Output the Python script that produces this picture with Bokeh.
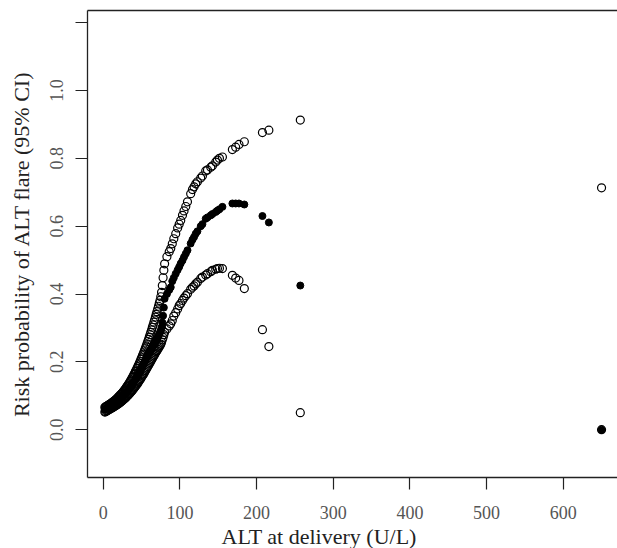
from bokeh.plotting import figure
from bokeh.models import Range1d, FixedTicker, LinearAxis, Title, NumeralTickFormatter, ColumnDataSource
from bokeh.embed import file_html
from bokeh.resources import INLINE

# ALT at delivery (U/L)
alt = [2, 3, 4, 5, 6, 7, 8, 9, 10, 11, 12, 13, 14, 15, 16, 17, 18, 19, 20,
       21, 22, 23, 24, 25, 26, 27, 28, 29, 30, 31, 32, 33, 34, 35, 36, 37, 38,
       39, 40, 41, 42, 43, 44, 45, 46, 47, 48, 49, 50, 51, 52, 53, 54, 55, 56,
       57, 58, 59, 60, 61, 62, 63, 64, 65, 66, 67, 68, 69, 70, 71, 72, 73, 74,
       75, 76, 77, 78, 79, 80,
       83, 86, 88, 90, 92, 94.5, 97, 99, 101, 103.3, 105.3, 107.6, 109.8, 114, 116.3,
       118.4, 120.6, 122.8, 127.1, 129.3, 133.6, 135.9, 140.2, 142.4, 146.7, 148.9,
       151.5, 155.4, 168.4, 172.7, 177, 184, 207.6, 216, 257, 650]

# upper 95% CI
upper = [0.066, 0.067, 0.069, 0.070, 0.071, 0.073, 0.074, 0.076, 0.077, 0.079,
         0.081, 0.082, 0.084, 0.086, 0.088, 0.090, 0.092, 0.095, 0.097,
         0.099, 0.102, 0.104, 0.107, 0.109, 0.112, 0.115, 0.118, 0.121, 0.124,
         0.128, 0.131, 0.135, 0.138, 0.142, 0.146, 0.150, 0.154,
         0.158, 0.163, 0.167, 0.172, 0.176, 0.181, 0.186, 0.191, 0.196, 0.201,
         0.207, 0.212, 0.218, 0.223, 0.229, 0.235, 0.241, 0.247,
         0.253, 0.260, 0.266, 0.273, 0.280, 0.287, 0.294, 0.302, 0.309, 0.317,
         0.324, 0.332, 0.340, 0.348, 0.356, 0.364, 0.373, 0.381,
         0.392, 0.405, 0.425, 0.448, 0.470, 0.489,
         0.510, 0.525, 0.534, 0.548, 0.563, 0.578, 0.595, 0.606, 0.617, 0.632, 0.645,
         0.658, 0.672, 0.696, 0.708, 0.716, 0.725, 0.731, 0.742, 0.748, 0.763, 0.766,
         0.774, 0.778, 0.789, 0.795, 0.800, 0.804, 0.826, 0.833, 0.841, 0.849, 0.876,
         0.883, 0.913, 0.713]

# estimated risk
est = [0.060, 0.061, 0.062, 0.063, 0.064, 0.066, 0.067, 0.068, 0.070, 0.071,
       0.073, 0.074, 0.076, 0.078, 0.079, 0.081, 0.083, 0.085, 0.087,
       0.089, 0.091, 0.093, 0.095, 0.098, 0.100, 0.102, 0.105, 0.107, 0.110,
       0.112, 0.115, 0.118, 0.121, 0.124, 0.127, 0.131, 0.134,
       0.138, 0.141, 0.145, 0.149, 0.153, 0.157, 0.161, 0.165, 0.169, 0.173,
       0.178, 0.182, 0.187, 0.191, 0.196, 0.201, 0.206, 0.211,
       0.216, 0.221, 0.226, 0.228, 0.232, 0.236, 0.240, 0.244, 0.248, 0.252,
       0.256, 0.260, 0.264, 0.268, 0.272, 0.277, 0.282, 0.287,
       0.293, 0.302, 0.316, 0.336, 0.360, 0.386,
       0.400, 0.412, 0.420, 0.438, 0.448, 0.460, 0.471, 0.480, 0.490, 0.499, 0.509,
       0.519, 0.529, 0.549, 0.560, 0.568, 0.578, 0.585, 0.600, 0.606, 0.622, 0.626,
       0.632, 0.636, 0.642, 0.646, 0.650, 0.657, 0.667, 0.667, 0.667, 0.664, 0.630,
       0.611, 0.425, 0.0]

# lower 95% CI
lower = [0.052, 0.053, 0.055, 0.056, 0.057, 0.059, 0.060, 0.061, 0.063, 0.064,
         0.065, 0.067, 0.068, 0.069, 0.071, 0.072, 0.074, 0.075, 0.077,
         0.079, 0.080, 0.082, 0.084, 0.086, 0.088, 0.090, 0.092, 0.094, 0.096,
         0.099, 0.101, 0.103, 0.106, 0.108, 0.111, 0.113, 0.116,
         0.119, 0.122, 0.125, 0.128, 0.131, 0.134, 0.137, 0.141, 0.144, 0.148,
         0.151, 0.155, 0.159, 0.162, 0.166, 0.170, 0.174, 0.178,
         0.182, 0.186, 0.190, 0.194, 0.198, 0.202, 0.206, 0.210, 0.214, 0.218,
         0.222, 0.226, 0.230, 0.233, 0.237, 0.241, 0.244, 0.248,
         0.252, 0.258, 0.265, 0.272, 0.280, 0.287,
         0.297, 0.306, 0.312, 0.322, 0.335, 0.345, 0.356, 0.366, 0.372, 0.381, 0.388,
         0.395, 0.401, 0.414, 0.420, 0.424, 0.430, 0.435, 0.446, 0.450, 0.456, 0.460,
         0.466, 0.470, 0.473, 0.475, 0.476, 0.475, 0.455, 0.447, 0.440, 0.416, 0.295,
         0.245, 0.050, 0.0]

x_ticks = [0, 100, 200, 300, 400, 500, 600]
y_ticks = [0.0, 0.2, 0.4, 0.6, 0.8, 1.0, 1.2]

src = ColumnDataSource(dict(x=alt, upper=upper, est=est, lower=lower))

SERIF = "Liberation Serif"

p = figure(width=617, height=548, output_backend="svg", toolbar_location=None,
           x_range=Range1d(-20.6, 670.8), y_range=Range1d(-0.141, 1.236),
           min_border_left=87, min_border_right=0, min_border_top=10, min_border_bottom=71,
           x_axis_type=None, y_axis_type=None)
p.grid.visible = False
p.outline_line_color = None
p.background_fill_color = "white"
p.border_fill_color = "white"

xaxis = LinearAxis(ticker=FixedTicker(ticks=x_ticks))
yaxis = LinearAxis(ticker=FixedTicker(ticks=y_ticks),
                   formatter=NumeralTickFormatter(format="0.0"))
yaxis.major_label_overrides = {1.2: ""}
for ax in (xaxis, yaxis):
    ax.axis_line_color = "#222222"
    ax.axis_line_width = 1.3
    ax.major_tick_line_color = "#222222"
    ax.major_tick_line_width = 1.2
    ax.major_tick_in = 0
    ax.major_tick_out = 12
    ax.minor_tick_line_color = None
    ax.major_label_text_font = SERIF
    ax.major_label_text_font_size = "18px"
    ax.major_label_text_color = "#555555"
    ax.major_label_standoff = 12
xaxis.major_label_standoff = 16
yaxis.major_label_orientation = "parallel"
yaxis.axis_label = "Risk probability of ALT flare (95% CI)"
yaxis.axis_label_text_font = SERIF
yaxis.axis_label_text_font_size = "22px"
yaxis.axis_label_text_font_style = "normal"
yaxis.axis_label_text_color = "#222222"
yaxis.axis_label_standoff = 14
p.add_layout(xaxis, "below")
p.add_layout(yaxis, "left")

top = LinearAxis(ticker=FixedTicker(ticks=[]))
top.axis_line_color = "#222222"
top.axis_line_width = 1.3
top.major_tick_out = 0
top.major_tick_in = 0
top.minor_tick_out = 0
top.minor_tick_in = 0
top.major_label_standoff = 0
top.major_label_text_font_size = "0px"
p.add_layout(top, "above")

xtitle = Title(text="ALT at delivery (U/L)", align="left", offset=134,
               text_font=SERIF, text_font_size="22px", text_font_style="normal",
               text_color="#222222", standoff=0)
p.add_layout(xtitle, "below")

p.scatter("x", "upper", source=src, marker="circle", size=8, fill_color=None,
          line_color="black", line_width=1.2)
p.scatter("x", "est", source=src, marker="circle", size=7, fill_color="black",
          line_color="black", line_width=1)
p.scatter("x", "lower", source=src, marker="circle", size=8, fill_color=None,
          line_color="black", line_width=1.2)

open("out.html", "w").write(file_html(p, INLINE))
